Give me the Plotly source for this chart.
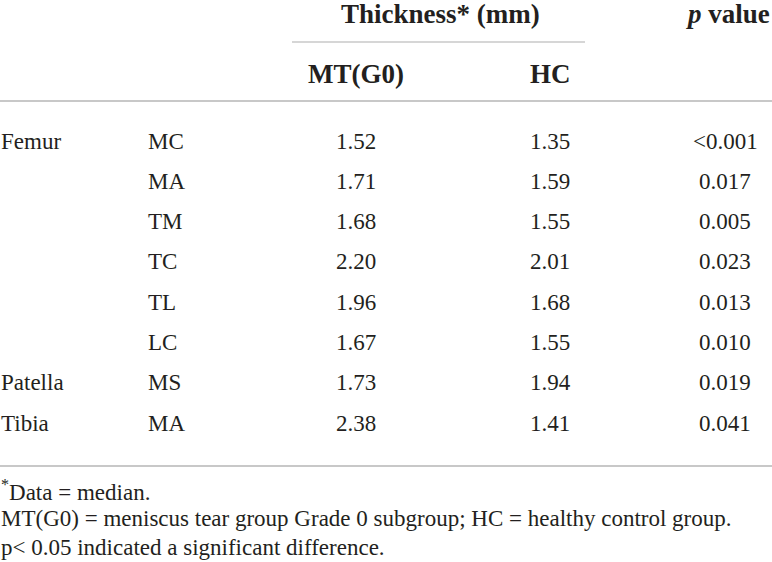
import plotly.graph_objects as go

# ---- data ----
regions = ["Femur", "", "", "", "", "", "Patella", "Tibia"]
subregions = ["MC", "MA", "TM", "TC", "TL", "LC", "MS", "MA"]
mt_g0 = ["1.52", "1.71", "1.68", "2.20", "1.96", "1.67", "1.73", "2.38"]
hc = ["1.35", "1.59", "1.55", "2.01", "1.68", "1.55", "1.94", "1.41"]
p_values = ["<0.001", "0.017", "0.005", "0.023", "0.013", "0.010", "0.019", "0.041"]
group_header = "Thickness* (mm)"
col_headers = ["MT(G0)", "HC"]
p_header = "<i>p</i> value"
footnotes = [
    "<sup>*</sup>Data = median.",
    "MT(G0) = meniscus tear group Grade 0 subgroup; HC = healthy control group.",
    "p< 0.05 indicated a significant difference.",
]

W, H = 772, 562
FONT = "Liberation Serif"
TXT = "#231f20"
LINE = "#c8c8c8"

# layout geometry
x_region, x_sub, x_mt, x_hc, x_p = 0, 147, 356, 550, 725
row_y0, row_dy = 141, 40.3
foot_y0, foot_dy = 490, 28.5

annotations = []

def add(text, x, y, anchor="center", size=23, bold=False):
    if bold:
        text = "<b>" + text + "</b>"
    annotations.append(dict(
        text=text, x=x, y=y, xref="x", yref="y", xanchor=anchor, yanchor="middle",
        showarrow=False, font=dict(family=FONT, size=size, color=TXT), borderpad=0,
    ))

add(group_header, 440, 14, size=27, bold=True)
add(p_header, 771, 14, anchor="right", size=27, bold=True)
add(col_headers[0], x_mt, 74, size=27, bold=True)
add(col_headers[1], x_hc, 74, size=27, bold=True)

for i in range(len(subregions)):
    y = row_y0 + i * row_dy
    if regions[i]:
        add(regions[i], x_region, y, anchor="left")
    add(subregions[i], x_sub, y, anchor="left")
    add(mt_g0[i], x_mt, y)
    add(hc[i], x_hc, y)
    add(p_values[i], x_p, y)

for j, t in enumerate(footnotes):
    add(t, x_region, foot_y0 + j * foot_dy, anchor="left", size=23)

shapes = [
    dict(type="line", xref="x", yref="y", x0=292, x1=585, y0=42, y1=42,
         line=dict(color=LINE, width=1.5)),
    dict(type="line", xref="x", yref="y", x0=0, x1=W, y0=101, y1=101,
         line=dict(color=LINE, width=2)),
    dict(type="line", xref="x", yref="y", x0=0, x1=W, y0=466, y1=466,
         line=dict(color=LINE, width=2)),
]

fig = go.Figure()
fig.update_layout(
    width=W, height=H,
    margin=dict(l=0, r=0, t=0, b=0),
    paper_bgcolor="white", plot_bgcolor="white",
    xaxis=dict(range=[0, W], visible=False, fixedrange=True),
    yaxis=dict(range=[H, 0], visible=False, fixedrange=True),
    annotations=annotations, shapes=shapes, showlegend=False,
)
fig.write_html("out.html", config={"displayModeBar": False},
               post_script="document.body.style.margin='0';document.body.style.overflow='hidden';")
